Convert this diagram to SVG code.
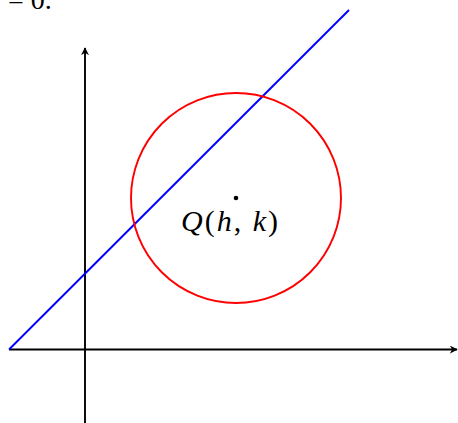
<svg xmlns="http://www.w3.org/2000/svg" width="458" height="423" viewBox="0 0 458 423">
<style>
.t{font-family:"Liberation Serif",serif;fill:#000}
.i{font-style:italic}
</style>
<defs>
<marker id="ah" viewBox="0 0 10 10" refX="9" refY="5" markerWidth="8" markerHeight="8" markerUnits="userSpaceOnUse" orient="auto">
<path d="M0,0 L10,5 L0,10 L3,5 Z" fill="#000"/>
</marker>
</defs>
<rect width="458" height="423" fill="#fff"/>
<g id="connectors">
<line x1="9" y1="349.5" x2="457" y2="349.5" stroke="#000" stroke-width="1.9" marker-end="url(#ah)"/>
<line x1="85" y1="423" x2="85" y2="48" stroke="#000" stroke-width="1.9" marker-end="url(#ah)"/>
<line x1="9" y1="349.5" x2="349" y2="10" stroke="#00f" stroke-width="1.9"/>
</g>
<g id="circle">
<circle cx="236" cy="198" r="105" fill="none" stroke="#f00" stroke-width="1.9"/>
<circle cx="236" cy="198" r="2.3" fill="#000"/>
</g>
<g id="label">
<text class="t" x="181" y="231" font-size="30" textLength="97" lengthAdjust="spacing"><tspan class="i">Q</tspan>(<tspan class="i">h</tspan>, <tspan class="i">k</tspan>)</text>
</g>
<text class="t" x="8" y="9" font-size="28">= 0.</text>
</svg>
